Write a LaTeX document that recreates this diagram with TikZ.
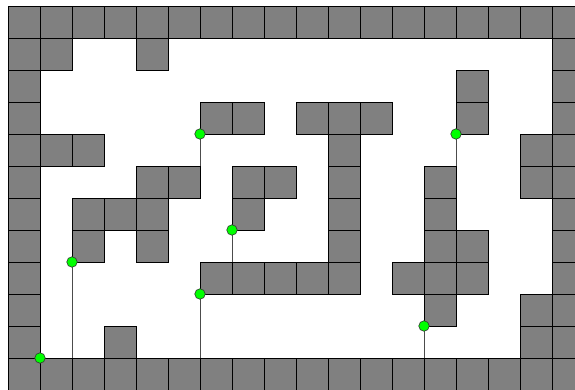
\documentclass[tikz,border=0pt]{standalone}
\pgfdeclarelayer{bg}
\pgfsetlayers{bg,main}
\begin{document}
\begin{tikzpicture}[x=1pt,y=-1pt,
  cell/.style={fill=gray50, draw=black, line width=0.9pt},
  probe/.style={circle, fill=green, draw=black!80, line width=0.6pt, minimum size=10.5pt, inner sep=0pt},
  trail/.style={draw=black!70, line width=0.9pt}]
\definecolor{gray50}{RGB}{128,128,128}
\definecolor{green}{RGB}{0,255,0}
\useasboundingbox (0,0) rectangle (575,390);
\clip (0,0) rectangle (575,390);
% walls
\foreach \c in {0,...,17} {
  \draw[cell] ({8+32*\c},6) rectangle ++(32,32);
  \draw[cell] ({8+32*\c},358) rectangle ++(32,32);
}
\foreach \r in {1,...,10} {
  \draw[cell] (8,{6+32*\r}) rectangle ++(32,32);
  \draw[cell] (552,{6+32*\r}) rectangle ++(32,32);
}
\foreach \c/\r in {1/1,4/1,14/2,6/3,7/3,9/3,10/3,11/3,14/3,1/4,2/4,10/4,16/4,
  4/5,5/5,7/5,8/5,10/5,13/5,16/5,2/6,3/6,4/6,7/6,10/6,13/6,2/7,4/7,10/7,13/7,14/7,
  6/8,7/8,8/8,9/8,10/8,12/8,13/8,14/8,13/9,16/9,16/10,3/10}
  \draw[cell] ({8+32*\c},{6+32*\r}) rectangle ++(32,32);
% probes
\node[probe] (p1) at (40,358) {};
\node[probe] (p2) at (72,262) {};
\node[probe] (p3) at (200,134) {};
\node[probe] (p4) at (232,230) {};
\node[probe] (p5) at (200,294) {};
\node[probe] (p6) at (456,134) {};
\node[probe] (p7) at (424,326) {};
\coordinate (e2) at (72,390);
\coordinate (e3) at (200,166);
\coordinate (e4) at (232,262);
\coordinate (e5) at (200,390);
\coordinate (e6) at (456,166);
\coordinate (e7) at (424,390);
% trails behind everything
\begin{pgfonlayer}{bg}
\foreach \a/\b in {p2/e2,p3/e3,p4/e4,p5/e5,p6/e6,p7/e7}
  \draw[trail] (\a.center) -- (\b);
\end{pgfonlayer}
\end{tikzpicture}
\end{document}
